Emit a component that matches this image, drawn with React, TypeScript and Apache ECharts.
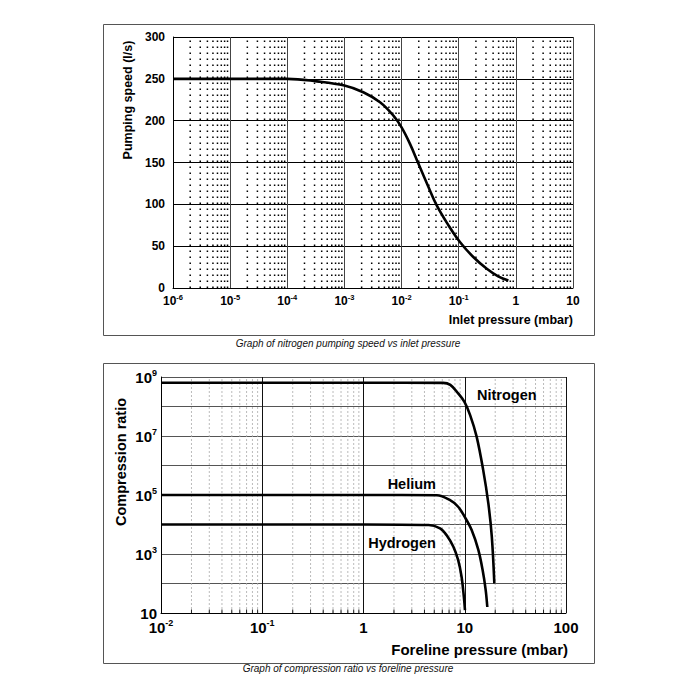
import React, { useEffect, useRef } from "react";
import * as echarts from "echarts";

// ---- Chart 1: nitrogen pumping speed vs inlet pressure ----
const speedPressure = [1e-6, 1e-5, 1e-4, 3.3e-4, 1e-3, 2.14e-3, 4.2e-3, 7.2e-3, 1e-2, 1.41e-2, 1.96e-2, 2.94e-2, 4.1e-2, 6.6e-2, 0.105, 0.18, 0.31, 0.49, 0.74];
const speedValues = [250, 250, 250, 247, 242, 234, 222, 206, 192, 172, 149, 121, 99, 75, 55, 37, 23, 14, 9];
const speedMin = 0;
const speedMax = 300;
const speedStep = 50;
const inletMin = 1e-6;
const inletMax = 10;
const inletDecades = [-6, -5, -4, -3, -2, -1, 0];

// ---- Chart 2: compression ratio vs foreline pressure ----
const nitrogenP = [0.01, 1, 6.1, 7.2, 8.6, 9.9, 11.3, 13.1, 15.2, 17.1, 18.5, 19.6];
const nitrogenR = [6.4e8, 6.4e8, 6.3e8, 5.4e8, 2.8e8, 1.45e8, 5.1e7, 9.5e6, 7.1e5, 5.2e4, 3.9e3, 100];
const heliumP = [0.01, 1, 5.3, 7.1, 8.6, 10.0, 11.7, 13.6, 15.0, 16.1, 16.7];
const heliumR = [1e5, 1e5, 9.8e4, 6.8e4, 4.0e4, 1.8e4, 6.5e3, 1.4e3, 290, 60, 16];
const hydrogenP = [0.01, 1, 4.4, 5.7, 6.6, 7.7, 8.6, 9.3, 9.8, 10.05];
const hydrogenR = [1e4, 1e4, 9.6e3, 7.4e3, 4.4e3, 1.8e3, 630, 170, 35, 12.6];
const gasNames = ["Nitrogen", "Helium", "Hydrogen"];
const gasLabelP = [26, 3.0, 2.4];
const gasLabelR = [2.5e8, 2.3e5, 2.3e3];
const forelineMin = 0.01;
const forelineMax = 100;
const forelineDecades = [-2, -1, 0, 1];
const ratioMin = 10;
const ratioMax = 1e9;

const minorMultipliers = [2, 3, 4, 5, 6, 7, 8, 9];

const FONT = "'Liberation Sans', Arial, Helvetica, sans-serif";

const minorValues = (decades: number[]) =>
  decades.flatMap((d) => minorMultipliers.map((m) => m * Math.pow(10, d)));

const expOf = (v: number) => Math.round(Math.log10(v));

const minorSeries = (
  xIdx: number,
  values: number[],
  yFrom: number,
  yTo: number,
  style: any,
  z: number
) => ({
  type: "custom",
  xAxisIndex: xIdx,
  yAxisIndex: xIdx,
  silent: true,
  z,
  data: values.map((v) => [v, yFrom]),
  renderItem: (_params: any, api: any) => {
    const x = api.value(0);
    const p0 = api.coord([x, yFrom]);
    const p1 = api.coord([x, yTo]);
    return {
      type: "line",
      shape: { x1: p0[0], y1: p0[1], x2: p1[0], y2: p1[1] },
      style,
    };
  },
});

const App: React.FC = () => {
  const ref = useRef<HTMLDivElement>(null);

  useEffect(() => {
    if (!ref.current) return;
    const chart = echarts.init(ref.current, undefined, { renderer: "svg" });

    const richTop = {
      b: { fontSize: 12, fontWeight: "bold", fontFamily: FONT, color: "#000", lineHeight: 15, verticalAlign: "middle" },
      s: { fontSize: 7.5, fontWeight: "bold", fontFamily: FONT, color: "#000", lineHeight: 8, verticalAlign: "top" },
    };
    const richBottom = {
      b: { fontSize: 15, fontWeight: "bold", fontFamily: FONT, color: "#000", lineHeight: 18, verticalAlign: "middle" },
      s: { fontSize: 9, fontWeight: "bold", fontFamily: FONT, color: "#000", lineHeight: 10, verticalAlign: "top" },
    };

    const topMinor = minorValues(inletDecades);
    const bottomMinor = minorValues(forelineDecades);

    const option: any = {
      animation: false,
      backgroundColor: "#fff",
      grid: [
        { left: 173, top: 37, width: 400, height: 251 },
        { left: 161, top: 377, width: 405, height: 236 },
      ],
      xAxis: [
        {
          type: "log",
          logBase: 10,
          gridIndex: 0,
          min: inletMin,
          max: inletMax,
          axisLine: { show: true, lineStyle: { color: "#000", width: 1 } },
          axisTick: { show: false },
          splitLine: { show: true, lineStyle: { color: "#444", width: 1 } },
          axisLabel: {
            interval: 0,
            margin: 5,
            formatter: (v: number) => {
              const e = expOf(v);
              if (e === 0) return "{b|1}";
              if (e === 1) return "{b|10}";
              return `{b|10}{s|${e}}`;
            },
            rich: richTop,
          },
        },
        {
          type: "log",
          logBase: 10,
          gridIndex: 1,
          min: forelineMin,
          max: forelineMax,
          axisLine: { show: true, lineStyle: { color: "#000", width: 1 } },
          axisTick: { show: false },
          splitLine: { show: true, lineStyle: { color: "#111", width: 1 } },
          axisLabel: {
            interval: 0,
            margin: 5,
            formatter: (v: number) => {
              const e = expOf(v);
              if (e === 0) return "{b|1}";
              if (e === 1) return "{b|10}";
              if (e === 2) return "{b|100}";
              return `{b|10}{s|${e}}`;
            },
            rich: richBottom,
          },
        },
      ],
      yAxis: [
        {
          type: "value",
          gridIndex: 0,
          min: speedMin,
          max: speedMax,
          interval: speedStep,
          axisLine: { show: true, lineStyle: { color: "#000", width: 1 } },
          axisTick: { show: false },
          splitLine: { show: true, lineStyle: { color: "#000", width: 1 } },
          axisLabel: {
            margin: 8,
            fontSize: 12,
            fontWeight: "bold",
            fontFamily: FONT,
            color: "#000",
          },
        },
        {
          type: "log",
          logBase: 10,
          gridIndex: 1,
          min: ratioMin,
          max: ratioMax,
          axisLine: { show: true, lineStyle: { color: "#000", width: 1 } },
          axisTick: { show: false },
          splitLine: { show: true, lineStyle: { color: "#555", width: 1 } },
          axisLabel: {
            interval: 0,
            margin: 4,
            formatter: (v: number) => {
              const e = expOf(v);
              if (e === 1) return "{b|10}";
              if (e % 2 === 1) return `{b|10}{s|${e}}`;
              return "";
            },
            rich: richBottom,
          },
        },
      ],
      series: [
        minorSeries(0, topMinor, speedMin, speedMax, { stroke: "#000", lineWidth: 1.5, lineDash: [1.5, 4.5] }, 1),
        minorSeries(1, bottomMinor, ratioMin, ratioMax, { stroke: "#aaa", lineWidth: 0.8, lineDash: [2, 2] }, 1),
        minorSeries(1, bottomMinor, ratioMin, ratioMin * Math.pow(10, 0.12), { stroke: "#222", lineWidth: 1 }, 2),
        {
          name: "Pumping speed",
          type: "line",
          xAxisIndex: 0,
          yAxisIndex: 0,
          z: 5,
          smooth: 0.4,
          showSymbol: false,
          symbol: "none",
          lineStyle: { color: "#000", width: 2.6 },
          data: speedPressure.map((p, i) => [p, speedValues[i]]),
        },
        ...[
          [nitrogenP, nitrogenR],
          [heliumP, heliumR],
          [hydrogenP, hydrogenR],
        ].map(([ps, rs], k) => ({
          name: gasNames[k],
          type: "line",
          xAxisIndex: 1,
          yAxisIndex: 1,
          z: 5,
          smooth: 0.35,
          showSymbol: false,
          symbol: "none",
          lineStyle: { color: "#000", width: 2.6 },
          data: ps.map((p, i) => [p, rs[i]]),
          markPoint: {
            silent: true,
            symbol: "circle",
            symbolSize: 0,
            label: {
              show: true,
              position: "inside",
              formatter: gasNames[k],
              fontSize: 14.5,
              fontWeight: "bold",
              fontFamily: FONT,
              color: "#000",
            },
            data: [{ coord: [gasLabelP[k], gasLabelR[k]] }],
          },
        })),
      ],
      graphic: [
        {
          type: "rect",
          shape: { x: 103.5, y: 24.5, width: 491, height: 311 },
          style: { fill: "none", stroke: "#555", lineWidth: 1 },
          silent: true,
        },
        {
          type: "rect",
          shape: { x: 103.5, y: 363.5, width: 491, height: 300 },
          style: { fill: "none", stroke: "#555", lineWidth: 1 },
          silent: true,
        },
        {
          type: "text",
          x: 128,
          y: 100,
          rotation: Math.PI / 2,
          style: {
            text: "Pumping speed (l/s)",
            align: "center",
            verticalAlign: "middle",
            font: `bold 12.5px ${FONT}`,
            fill: "#000",
          },
        },
        {
          type: "text",
          x: 573,
          y: 320,
          style: {
            text: "Inlet pressure (mbar)",
            align: "right",
            verticalAlign: "middle",
            font: `bold 12.5px ${FONT}`,
            fill: "#000",
          },
        },
        {
          type: "text",
          x: 121,
          y: 462,
          rotation: Math.PI / 2,
          style: {
            text: "Compression ratio",
            align: "center",
            verticalAlign: "middle",
            font: `bold 14.5px ${FONT}`,
            fill: "#000",
          },
        },
        {
          type: "text",
          x: 568,
          y: 649,
          style: {
            text: "Foreline pressure (mbar)",
            align: "right",
            verticalAlign: "middle",
            font: `bold 15px ${FONT}`,
            fill: "#000",
          },
        },
        {
          type: "text",
          x: 348,
          y: 343,
          style: {
            text: "Graph of nitrogen pumping speed vs inlet pressure",
            align: "center",
            verticalAlign: "middle",
            font: `italic 10px ${FONT}`,
            fill: "#111",
          },
        },
        {
          type: "text",
          x: 348,
          y: 668,
          style: {
            text: "Graph of compression ratio vs foreline pressure",
            align: "center",
            verticalAlign: "middle",
            font: `italic 10px ${FONT}`,
            fill: "#111",
          },
        },
      ],
    };

    chart.setOption(option);
    return () => {
      chart.dispose();
    };
  }, []);

  return (
    <div
      ref={ref}
      style={{ position: "absolute", left: 0, top: 0, width: 700, height: 700 }}
    />
  );
};

export default App;
